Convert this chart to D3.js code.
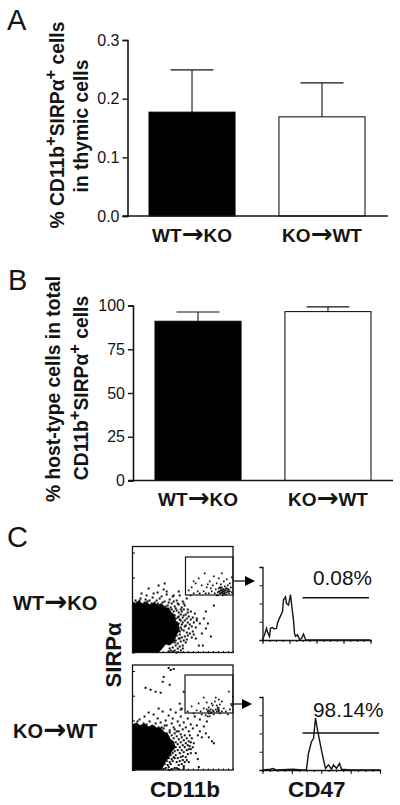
<!DOCTYPE html>
<html><head><meta charset="utf-8">
<script src="https://cdn.jsdelivr.net/npm/d3@7"></script>
<style>html,body{margin:0;padding:0;background:#fff}svg{display:block}text{font-family:"Liberation Sans",Arial,sans-serif;fill:#141414}</style>
</head><body><svg id="c" width="400" height="805"></svg>
<script>
const groups=["WT→KO","KO→WT"];
const thymicMean=[0.177,0.169];
const thymicErr=[0.249,0.227];
const thymicTicks=[0,0.1,0.2,0.3];
const hostMean=[91,96.5];
const hostErr=[96.3,99.2];
const hostTicks=[0,25,50,75,100];
const barFill=["#000","#fff"];
const blobWK=[[0,51],[3,49],[6,52],[10,49],[14,51],[17,48],[21,50],[25,48],[29,49],[33,45],[36,45],[39,40],[42,38],[43,32],[46,29],[47,22],[44,18],[42,11],[37,7],[33,8],[29,3],[26,0],[0,0]];
const blobKW=[[0,46],[4,48],[8,45],[12,47],[16,44],[20,46],[24,43],[28,43],[32,38],[35,37],[38,31],[41,29],[43,23],[39,18],[36,12],[33,8],[29,0],[0,0]];
const gatedWK=[[55,63],[58,66],[60,72],[62,70],[65,75],[64,62],[68,68],[71,80],[73,66],[75,60],[76,72],[78,62],[79,68],[80,77],[81,60],[82,64],[83,70],[84,61],[85,65],[85,75],[86,60],[87,63],[87,69],[88,66],[88,80],[89,60],[89,62],[90,64],[90,72],[91,61],[91,67],[92,63],[92,59],[93,65],[93,74],[94,62],[94,68],[95,60],[95,64],[96,70],[96,62],[97,66],[98,61],[98,76],[70,62],[72,60],[83,58],[86,66],[88,63],[90,62],[89,64],[91,63],[92,65],[87,60],[84,58],[77,65],[66,60],[57,58],[60,60],[74,69],[86,62],[88,61],[91,59],[93,61],[95,62],[89,58],[85,62],[90,60],[87,65],[94,64]];
const outerWK=[[31,70],[15,65],[25,68],[8,60],[33,62],[40,58],[45,62],[30,64],[20,60],[63,33],[66,30],[70,35],[72,25],[74,30],[62,15],[65,8],[69,8],[72,42],[68,20],[77,17],[80,48],[3,51],[7,55],[9,49],[13,58],[14,52],[18,50],[19,56],[23,53],[24,61],[27,49],[28,57],[31,52],[33,59],[34,48],[36,54],[38,50],[39,57],[41,47],[43,53],[45,49],[46,58],[48,46],[49,52],[51,48],[53,55],[54,44],[2,53],[11,51],[16,53],[21,51],[26,55],[29,51],[32,47],[35,51],[37,46],[40,52],[42,45],[44,50],[47,44],[50,50],[38,44],[40,42],[41,38],[43,43],[44,36],[45,41],[46,34],[47,39],[48,42],[49,31],[49,36],[50,44],[51,33],[52,39],[52,28],[53,35],[54,41],[54,31],[55,25],[55,37],[56,29],[57,34],[57,42],[58,27],[59,36],[59,22],[60,31],[61,40],[62,26],[63,35],[45,30],[47,26],[48,29],[50,23],[51,27],[53,21],[54,18],[56,20],[58,16],[60,19],[44,27],[46,22],[43,31],[42,35],[41,33],[45,37],[47,33],[50,38],[40,16],[42,13],[43,18],[44,10],[45,15],[46,19],[47,12],[48,16],[49,8],[50,13],[51,17],[52,11],[53,14],[46,7],[44,5],[42,8],[41,11],[39,6],[37,3],[35,2],[41,3],[43,1],[47,3],[49,5],[39,2],[36,5],[46,15],[48,24],[44,23],[42,24],[38,39],[35,44],[30,46],[24,50],[12,54],[6,53]];
const gatedKW=[[54,60],[58,65],[60,58],[63,61],[65,68],[67,60],[68,57],[70,63],[72,56],[73,69],[74,60],[75,58],[75,64],[76,55],[77,62],[78,59],[79,66],[80,57],[81,70],[82,62],[83,60],[84,64],[85,72],[86,67],[86,58],[88,60],[90,63],[92,60],[94,57],[96,62],[98,66],[99,75],[95,80],[88,70],[82,74],[78,68],[73,62],[74,55],[76,60],[79,61],[84,62],[85,63],[85,60],[70,74],[77,58],[80,60],[75,61],[83,66],[85,61]];
const outerKW=[[35,104],[37,102],[40,103],[30,95],[29,90],[36,87],[12,84],[17,82],[22,80],[27,79],[50,80],[46,68],[47,62],[64,36],[66,40],[68,34],[72,38],[75,34],[78,30],[60,28],[57,22],[62,18],[64,12],[70,45],[73,50],[80,28],[55,9],[65,4],[50,3],[45,2],[2,47],[6,52],[8,46],[11,55],[13,47],[16,50],[18,45],[20,57],[22,48],[24,53],[25,44],[27,49],[29,60],[30,43],[32,51],[33,46],[35,56],[36,41],[38,48],[39,53],[40,44],[42,59],[43,40],[44,50],[46,46],[47,55],[49,42],[50,49],[52,44],[54,53],[55,40],[57,47],[59,43],[61,55],[63,46],[66,52],[37,62],[25,63],[15,59],[48,63],[33,38],[35,34],[36,39],[37,30],[38,36],[39,27],[40,33],[41,38],[42,29],[42,24],[43,35],[44,21],[44,27],[45,32],[46,18],[46,24],[47,37],[47,29],[48,21],[48,34],[49,26],[49,15],[50,31],[50,19],[51,24],[51,36],[52,28],[52,14],[53,21],[53,33],[54,26],[54,17],[55,30],[55,22],[56,36],[56,25],[57,18],[57,29],[58,33],[59,24],[41,20],[40,14],[39,18],[38,12],[37,16],[36,9],[35,13],[34,6],[33,10],[32,3],[31,7],[30,2],[35,4],[37,7],[39,10],[41,13],[42,16],[43,9],[44,13],[45,6],[46,10],[47,14],[48,7],[49,11],[50,5],[41,3],[38,2],[43,3],[36,1],[51,9],[53,11],[45,40],[41,42],[31,46],[28,44],[10,48],[4,50]];
const histWK=[[0,0],[2,7],[4,16],[5,11],[7,5],[8,16],[10,17],[12,15],[14,16],[15,23],[17,30],[19,36],[20,39],[21,55],[23,59],[24,50],[26,48],[28,62],[29,50],[31,27],[32,9],[33,5],[35,7],[37,1],[39,2],[41,8],[43,1],[44,0],[108,0]];
const histKW=[[0,0],[8,1],[10,2],[12,1],[14,0],[30,1],[40,0],[43,0],[44,1],[46,23],[49,39],[51,43],[53,71],[55,55],[57,41],[59,27],[61,14],[63,2],[66,7],[69,1],[71,7],[74,2],[77,9],[79,1],[89,0],[118,0]];
const gateLabels=["0.08%","98.14%"];

const svg=d3.select("#c");
const ink="#141414";
function label(t,x,y,size,weight){return svg.append("text").attr("x",x).attr("y",y).attr("font-size",size).attr("font-weight",weight||"normal").text(t);}
function arrowLabel(t,x,y,size,anchor){
  const parts=t.split("→");
  const n=svg.append("text").attr("x",x).attr("y",y).attr("font-size",size).attr("font-weight","bold").attr("text-anchor",anchor);
  n.append("tspan").text(parts[0]);
  n.append("tspan").attr("font-family","DejaVu Sans").attr("font-size",size*1.38).attr("dy",size*0.06).text("→");
  n.append("tspan").attr("dy",-size*0.06).text(parts[1]);
}
function rich(parent,parts,size){
  const t=parent.append("text").attr("font-size",size).attr("font-weight","bold");
  parts.forEach(p=>{
    const s=t.append("tspan").text(p[0]);
    if(p[1]==="sup"){s.attr("dy",-size*0.42).attr("font-size",size*0.85);}
    else if(p[1]==="back"){s.attr("dy",size*0.42);}
  });
  return t;
}
function ylabel(parts,xb,yc,size){
  return rich(svg,parts,size).attr("text-anchor","middle").attr("transform",`translate(${xb},${yc}) rotate(-90)`);
}
function barPanel(o){
  const g=svg.append("g");
  const y=d3.scaleLinear().domain([0,o.max]).range([o.y0,o.y1]);
  const x=d3.scaleBand().domain(groups).range([o.xa,o.xb]).paddingInner(0.338).paddingOuter(0);
  const ax=d3.axisLeft(y).tickValues(o.ticks).tickFormat(o.fmt).tickSize(5).tickPadding(3);
  const ag=g.append("g").attr("transform",`translate(${o.ax},0)`).call(ax);
  ag.select(".domain").attr("stroke",ink).attr("stroke-width",1.6);
  ag.selectAll(".tick line").attr("stroke",ink).attr("stroke-width",1.4);
  ag.selectAll("text").attr("font-size",16).attr("fill",ink);
  const cols=g.selectAll("g.b").data(groups).join("g").attr("class","b");
  cols.append("line").attr("x1",d=>x(d)+x.bandwidth()/2).attr("x2",d=>x(d)+x.bandwidth()/2)
    .attr("y1",(d,i)=>y(o.mean[i])).attr("y2",(d,i)=>y(o.err[i])).attr("stroke",ink).attr("stroke-width",1.1);
  cols.append("line").attr("x1",d=>x(d)+x.bandwidth()/2-21.5).attr("x2",d=>x(d)+x.bandwidth()/2+21.5)
    .attr("y1",(d,i)=>y(o.err[i])).attr("y2",(d,i)=>y(o.err[i])).attr("stroke",ink).attr("stroke-width",1.1);
  cols.append("rect").attr("x",d=>x(d)).attr("width",x.bandwidth())
    .attr("y",(d,i)=>y(o.mean[i])).attr("height",(d,i)=>o.y0-y(o.mean[i]))
    .attr("fill",(d,i)=>barFill[i]).attr("stroke","#000").attr("stroke-width",1);
  g.append("line").attr("x1",o.ax-5).attr("x2",o.xend).attr("y1",o.y0).attr("y2",o.y0).attr("stroke",ink).attr("stroke-width",1.7);
  groups.forEach(d=>arrowLabel(d,x(d)+x.bandwidth()/2,o.y0+25.5,19,"middle"));
}
barPanel({max:0.3,ticks:thymicTicks,fmt:d3.format(".1f"),mean:thymicMean,err:thymicErr,y0:216,y1:40,ax:127.5,xa:149,xb:365,xend:388});
barPanel({max:100,ticks:hostTicks,fmt:d3.format("d"),mean:hostMean,err:hostErr,y0:480.5,y1:305.5,ax:133,xa:155,xb:371,xend:393});
label("A",7,30,29);label("B",8,290,29);label("C",7,547,29);
ylabel([["% CD11b"],["+","sup"],["SIRPα","back"],["+","sup"],[" cells","back"]],64,125,19.3);
ylabel([["in thymic cells"]],88,126,19.3);
ylabel([["% host-type cells in total"]],60,389,19.3);
ylabel([["CD11b"],["+","sup"],["SIRPα","back"],["+","sup"],[" cells","back"]],88,388,19.3);

function scatter(top,bottom,gateTop,gateBottom,gateLeft,blob,gated,outer){
  const x=d3.scaleLinear().domain([0,100]).range([132.5,233]);
  const y=d3.scaleLinear().domain([0,100]).range([bottom,bottom-(bottom-top)*100/106]);
  const g=svg.append("g");
  g.append("path").datum(blob).attr("d",d3.line().x(d=>x(d[0])).y(d=>y(d[1]))).attr("fill","#000");
  g.selectAll("rect.o").data(outer).join("rect").attr("class","o").attr("x",d=>x(d[0])).attr("y",d=>y(d[1])).attr("width",2).attr("height",2).attr("fill","#111");
  g.selectAll("rect.g").data(gated).join("rect").attr("class","g").attr("x",d=>x(d[0])).attr("y",d=>y(d[1])).attr("width",1.7).attr("height",1.7).attr("fill","#111");
  g.append("rect").attr("x",132.5).attr("y",top).attr("width",100.5).attr("height",bottom-top).attr("fill","none").attr("stroke",ink).attr("stroke-width",1.3);
  g.append("rect").attr("x",gateLeft).attr("y",gateTop).attr("width",233-gateLeft).attr("height",gateBottom-gateTop).attr("fill","none").attr("stroke",ink).attr("stroke-width",1.2);
  const ticks=d3.range(0,101,25);
  g.append("g").attr("transform","translate(132.5,0)").call(d3.axisRight(y).tickValues(ticks).tickSize(2.5).tickFormat("")).call(s=>s.select(".domain").remove());
  g.append("g").attr("transform",`translate(0,${bottom})`).call(d3.axisTop(x).tickValues(d3.range(0,101,5)).tickSize(1.5).tickFormat("")).call(s=>s.select(".domain").remove());
}
scatter(546.5,652.5,557,595,185.5,blobWK,gatedWK,outerWK);
scatter(665,770,675,713,185,blobKW,gatedKW,outerKW);

function hist(axisTop,base,xEnd,data,barY,barEnd,txt,txtX,txtY){
  const x=d3.scaleLinear().domain([0,108]).range([262.5,370.5]);
  const y=d3.scaleLinear().domain([0,100]).range([base,axisTop]);
  const g=svg.append("g");
  const xx=d3.scaleLinear().domain([0,4]).range([262.5,xEnd]);
  g.append("g").attr("transform","translate(262.5,0)").call(d3.axisLeft(y).tickValues([0,25,50,75,100]).tickSize(3).tickFormat(""));
  g.append("g").attr("transform",`translate(0,${base})`).call(d3.axisBottom(xx).tickValues(d3.range(0,4.01,0.25)).tickSize(2).tickFormat(""));
  g.append("g").attr("transform",`translate(0,${base})`).call(d3.axisBottom(xx).ticks(4).tickSize(4).tickFormat("")).call(s=>s.select(".domain").remove());
  g.selectAll(".domain").attr("stroke",ink).attr("stroke-width",1.3);
  g.selectAll(".tick line").attr("stroke",ink);
  g.append("path").datum(data).attr("d",d3.line().x(d=>x(d[0])).y(d=>y(d[1]))).attr("fill","none").attr("stroke",ink).attr("stroke-width",1.4);
  g.append("line").attr("x1",302.5).attr("x2",barEnd).attr("y1",barY).attr("y2",barY).attr("stroke",ink).attr("stroke-width",1.4);
  label(txt,txtX,txtY,20.8);
}
hist(567,640,370.5,histWK,597.7,369,gateLabels[0],313,585);
hist(697,770,380,histKW,733,379,gateLabels[1],313,717);

[[234,581,255],[230,704,252]].forEach(a=>{
  svg.append("line").attr("x1",a[0]).attr("x2",a[2]-8).attr("y1",a[1]).attr("y2",a[1]).attr("stroke",ink).attr("stroke-width",1.3);
  svg.append("path").attr("d",d3.line()([[a[2]-10,a[1]-5],[a[2],a[1]],[a[2]-10,a[1]+5]])).attr("fill","#000");
});
arrowLabel("WT→KO",13,610,20,"start");
arrowLabel("KO→WT",13,738,20,"start");
svg.append("text").attr("font-size",22).attr("font-weight","bold").attr("text-anchor","middle").attr("transform","translate(121,655) rotate(-90)").text("SIRPα");
label("CD11b",150,797,22.5,"bold");
label("CD47",288,797,22.5,"bold");
</script></body></html>
